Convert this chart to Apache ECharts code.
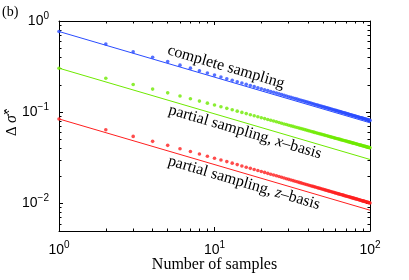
<!DOCTYPE html>
<html>
<head>
<meta charset="utf-8">
<script src="https://cdn.jsdelivr.net/npm/echarts@6/dist/echarts.min.js"></script>
<style>html,body{margin:0;padding:0;background:#fff}#c{width:409px;height:280px}</style>
</head>
<body>
<div id="c"></div>
<script>
// ---- data ----
const samples = [1,2,3,4,5,6,7,8,9,10,11,12,13,14,15,16,17,18,19,20,21,22,23,24,25,26,27,28,29,30,31,32,33,34,35,36,37,38,39,40,41,42,43,44,45,46,47,48,49,50,51,52,53,54,55,56,57,58,59,60,61,62,63,64,65,66,67,68,69,70,71,72,73,74,75,76,77,78,79,80,81,82,83,84,85,86,87,88,89,90,91,92,93,94,95,96,97,98,99,100];
const completeDots = [0.767,0.559,0.4604,0.4004,0.3590,0.3283,0.3044,0.2850,0.2689,0.2553,0.2435,0.2333,0.2242,0.2161,0.2089,0.2023,0.1963,0.1909,0.1858,0.1811,0.1768,0.1728,0.1690,0.1655,0.1621,0.1590,0.1561,0.1533,0.1506,0.1481,0.1457,0.1434,0.1413,0.1392,0.1372,0.1353,0.1335,0.1317,0.1300,0.1284,0.1268,0.1253,0.1239,0.1225,0.1211,0.1198,0.1185,0.1173,0.1161,0.1149,0.1138,0.1127,0.1116,0.1106,0.1096,0.1086,0.1077,0.1067,0.1058,0.1050,0.1041,0.1033,0.1024,0.1016,0.1009,0.1001,0.0993,0.0986,0.0979,0.0972,0.0965,0.0959,0.0952,0.0946,0.0939,0.0933,0.0927,0.0921,0.0915,0.0910,0.0904,0.0898,0.0893,0.0888,0.0883,0.0877,0.0872,0.0867,0.0863,0.0858,0.0853,0.0849,0.0844,0.0839,0.0835,0.0831,0.0826,0.0822,0.0818,0.0814];
const partialXDots = [0.304,0.2363,0.2018,0.1793,0.1631,0.1507,0.1408,0.1326,0.1258,0.1200,0.1149,0.1104,0.1064,0.1029,0.0996,0.0967,0.0940,0.0916,0.0893,0.0872,0.0852,0.0834,0.0817,0.0801,0.0786,0.0771,0.0758,0.0745,0.0733,0.0721,0.0710,0.0700,0.0690,0.0680,0.0671,0.0662,0.0654,0.0646,0.0638,0.0630,0.0623,0.0616,0.0609,0.0602,0.0596,0.0590,0.0584,0.0578,0.0573,0.0567,0.0562,0.0557,0.0552,0.0547,0.0542,0.0537,0.0533,0.0529,0.0524,0.0520,0.0516,0.0512,0.0508,0.0505,0.0501,0.0497,0.0494,0.0490,0.0487,0.0484,0.0480,0.0477,0.0474,0.0471,0.0468,0.0465,0.0462,0.0459,0.0457,0.0454,0.0451,0.0449,0.0446,0.0443,0.0441,0.0438,0.0436,0.0434,0.0431,0.0429,0.0427,0.0425,0.0423,0.0420,0.0418,0.0416,0.0414,0.0412,0.0410,0.0408];
const partialZDots = [0.0845,0.0644,0.0544,0.0480,0.0434,0.0399,0.0371,0.0349,0.0330,0.0314,0.0300,0.0288,0.0277,0.0267,0.0258,0.0250,0.0243,0.0236,0.0230,0.02245,0.02192,0.02142,0.02096,0.02053,0.02012,0.01974,0.01938,0.01903,0.01871,0.01840,0.01811,0.01783,0.01756,0.01730,0.01705,0.01682,0.01659,0.01638,0.01617,0.01597,0.01577,0.01559,0.01541,0.01523,0.01506,0.01490,0.01474,0.01459,0.01444,0.01430,0.01416,0.01402,0.01389,0.01376,0.01364,0.01352,0.01340,0.01329,0.01317,0.01306,0.01296,0.01285,0.01275,0.01265,0.01255,0.01246,0.01237,0.01228,0.01219,0.01210,0.01202,0.01193,0.01185,0.01177,0.01169,0.01162,0.01154,0.01147,0.01140,0.01132,0.01125,0.01119,0.01112,0.01105,0.01099,0.01092,0.01086,0.01080,0.01074,0.01068,0.01062,0.01056,0.01051,0.01045,0.01040,0.01034,0.01029,0.01024,0.01019,0.01014];
const fitX = [1, 100];
const completeFit = [0.767, 0.0767];
const partialXFit = [0.304, 0.0304];
const partialZFit = [0.0845, 0.00845];
const xMajorTicks = [1, 10, 100];
const xMinorTicks = [2,3,4,5,6,7,8,9,20,30,40,50,60,70,80,90];
const yMajorTicks = [0.01, 0.1, 1];
const yMinorTicks = [0.006,0.007,0.008,0.009,0.02,0.03,0.04,0.05,0.06,0.07,0.08,0.09,0.2,0.3,0.4,0.5,0.6,0.7,0.8,0.9];
const xTitle = 'Number of samples';
const labels = ['complete sampling', 'partial sampling, {i|x}\u2013basis', 'partial sampling, {i|z}\u2013basis'];

const BLUE = '#2a4cff', GREEN = '#6eea00', RED = '#ff1f1f';
const SANS = '"Liberation Sans", Arial, sans-serif';
const SERIF = '"Liberation Serif", "Times New Roman", serif';

function powLabel(v) {
  const e = Math.round(Math.log10(v));
  return '{b|10}{s|' + (e < 0 ? '\u2212' + (-e) : e) + '}';
}
const labelRich = {
  b: { fontSize: 14, lineHeight: 20, fontFamily: SANS, color: '#000' },
  s: { fontSize: 10, lineHeight: 10, verticalAlign: 'top', fontFamily: SANS, color: '#000' }
};
const line = { lineStyle: { color: '#000', width: 1 } };

function mkAxis(kind, pos, ticks, len, showLine, labelVals) {
  const a = {
    type: 'log', logBase: 10, position: pos,
    min: kind === 'x' ? 1 : 0.005, max: kind === 'x' ? 100 : 1,
    axisLine: { show: showLine, onZero: false, lineStyle: { color: '#000', width: 1 } },
    axisTick: { show: true, inside: true, length: len, customValues: ticks, lineStyle: { color: '#000', width: 1 } },
    splitLine: { show: false },
    minorTick: { show: false }, minorSplitLine: { show: false }
  };
  if (labelVals) {
    a.axisLabel = { show: true, customValues: labelVals, formatter: powLabel, rich: labelRich, margin: kind === 'x' ? 9 : 10 };
  } else {
    a.axisLabel = { show: false };
  }
  return a;
}

const chart = echarts.init(document.getElementById('c'), null, { renderer: 'canvas' });
chart.setOption({
  animation: false,
  backgroundColor: '#fff',
  grid: { left: 59, right: 39, top: 21, bottom: 49, containLabel: false },
  xAxis: [
    mkAxis('x', 'bottom', xMajorTicks, 4, true, xMajorTicks),
    mkAxis('x', 'bottom', xMinorTicks, 2.5, false, null),
    mkAxis('x', 'top', xMajorTicks, 4, true, null),
    mkAxis('x', 'top', xMinorTicks, 2.5, false, null)
  ],
  yAxis: [
    mkAxis('y', 'left', yMajorTicks, 4, true, yMajorTicks),
    mkAxis('y', 'left', yMinorTicks, 2.5, false, null),
    mkAxis('y', 'right', yMajorTicks, 4, true, null),
    mkAxis('y', 'right', yMinorTicks, 2.5, false, null)
  ],
  series: [
    { type: 'line', data: fitX.map((x, i) => [x, completeFit[i]]), showSymbol: false, lineStyle: { color: BLUE, width: 1 }, silent: true },
    { type: 'line', data: fitX.map((x, i) => [x, partialXFit[i]]), showSymbol: false, lineStyle: { color: GREEN, width: 1 }, silent: true },
    { type: 'line', data: fitX.map((x, i) => [x, partialZFit[i]]), showSymbol: false, lineStyle: { color: RED, width: 1 }, silent: true },
    { type: 'scatter', data: samples.map((x, i) => [x, completeDots[i]]), symbolSize: 3.6, itemStyle: { color: BLUE } },
    { type: 'scatter', data: samples.map((x, i) => [x, partialXDots[i]]), symbolSize: 3.6, itemStyle: { color: GREEN } },
    { type: 'scatter', data: samples.map((x, i) => [x, partialZDots[i]]), symbolSize: 3.6, itemStyle: { color: RED } }
  ],
  graphic: [
    { type: 'text', x: 2, y: 5, style: { text: '(b)', fontSize: 14, fontFamily: SERIF, fill: '#000' } },
    { type: 'text', x: 214.5, y: 265, style: { text: xTitle, fontSize: 16, fontFamily: SERIF, fill: '#000', align: 'center', verticalAlign: 'middle' } },
    { type: 'text', x: 12, y: 123, rotation: Math.PI / 2, style: {
        text: '{d|\u0394} {s|\u03c3\u0302}{x|x}', align: 'center', verticalAlign: 'middle',
        rich: {
          d: { fontSize: 15, lineHeight: 22, fontFamily: SERIF, fill: '#000' },
          s: { fontSize: 16, lineHeight: 22, fontStyle: 'italic', fontFamily: SERIF, fill: '#000' },
          x: { fontSize: 11, lineHeight: 10, verticalAlign: 'top', fontStyle: 'italic', fontFamily: SERIF, fill: '#000' }
        } } },
    { type: 'text', x: 226, y: 67, rotation: -0.286, style: { text: labels[0], fontSize: 16, fontFamily: SERIF, fill: '#000', align: 'center', verticalAlign: 'middle' } },
    { type: 'text', x: 245, y: 132, rotation: -0.286, style: { text: labels[1], fontSize: 16, fontFamily: SERIF, fill: '#000', align: 'center', verticalAlign: 'middle',
        rich: { i: { fontSize: 16, fontStyle: 'italic', fontFamily: SERIF, fill: '#000' } } } },
    { type: 'text', x: 244, y: 183, rotation: -0.286, style: { text: labels[2], fontSize: 16, fontFamily: SERIF, fill: '#000', align: 'center', verticalAlign: 'middle',
        rich: { i: { fontSize: 16, fontStyle: 'italic', fontFamily: SERIF, fill: '#000' } } } }
  ]
});
</script>
</body>
</html>
